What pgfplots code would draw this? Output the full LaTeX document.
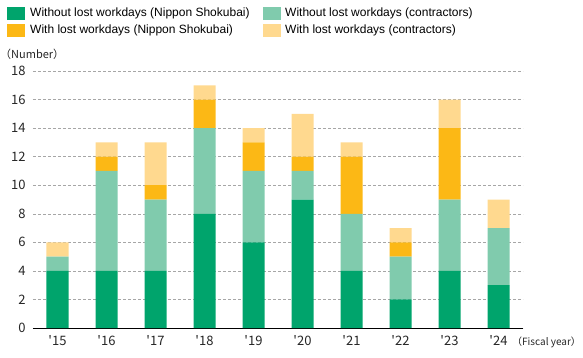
\documentclass[border=0pt]{standalone}
\usepackage{pgfplots}
\pgfplotsset{compat=1.18}
\usepackage{fontspec}
\setmainfont{Liberation Sans}
\newfontfamily\jp[Ligatures=TeXOff]{Noto Sans CJK JP}
\definecolor{dgreen}{HTML}{00A46C}
\definecolor{lgreen}{HTML}{80CBAD}
\definecolor{orng}{HTML}{FCB815}
\definecolor{lyell}{HTML}{FFD98F}
\pgfplotstableread{
x a b c d
0 4 1 0 1
1 4 7 1 1
2 4 5 1 3
3 8 6 2 1
4 6 5 2 1
5 9 2 1 3
6 4 4 4 1
7 2 3 1 1
8 4 5 5 2
9 3 4 0 2
}\datatable
\begin{document}
\begin{tikzpicture}[x=1pt,y=1pt]
\path[use as bounding box] (-33,-29) rectangle (550,328);
\begin{axis}[
  at={(0,0)}, anchor=south west,
  scale only axis, width=490pt, height=257pt,
  xmin=-0.5, xmax=9.5, ymin=0, ymax=18,
  ybar stacked, bar width=22pt,
  axis x line*=bottom, axis y line*=left,
  y axis line style={draw=none},
  x axis line style={black, line width=0.8pt, -},
  major tick length=0pt,
  ytick={0,2,...,18},
  xtick={0,...,9},
  xticklabels={'15,'16,'17,'18,'19,'20,'21,'22,'23,'24},
  ymajorgrids, grid style={densely dashed, gray!70, line width=0.5pt},
  /pgf/number format/assume math mode=true,
  tick label style={font=\jp\fontsize{13}{13}\selectfont, text=black!85},
  yticklabel style={xshift=-4pt},
  xticklabel style={yshift=-4pt},
  clip=false,
]
\addplot[fill=dgreen, draw=none] table[x=x, y=a] {\datatable};
\addplot[fill=lgreen, draw=none] table[x=x, y=b] {\datatable};
\addplot[fill=orng, draw=none] table[x=x, y=c] {\datatable};
\addplot[fill=lyell, draw=none] table[x=x, y=d] {\datatable};
\end{axis}
\fill[dgreen] (-26,308) rectangle (-8,321);
\node[anchor=west, inner sep=0pt, font=\fontsize{12}{12}\selectfont] at (-3,314.5) {Without lost workdays (Nippon Shokubai)};
\fill[orng] (-26,291) rectangle (-8,304);
\node[anchor=west, inner sep=0pt, font=\fontsize{12}{12}\selectfont] at (-3,297.5) {With lost workdays (Nippon Shokubai)};
\fill[lgreen] (230,308) rectangle (248,321);
\node[anchor=west, inner sep=0pt, font=\fontsize{12}{12}\selectfont] at (252,314.5) {Without lost workdays (contractors)};
\fill[lyell] (230,291) rectangle (248,304);
\node[anchor=west, inner sep=0pt, font=\fontsize{12}{12}\selectfont] at (252,297.5) {With lost workdays (contractors)};
\node[anchor=west, inner sep=0pt, font=\jp\fontsize{11}{11}\selectfont, text=black!85] at (-33,274) {（Number）};
\node[anchor=west, inner sep=0pt, font=\jp\fontsize{10}{10}\selectfont, text=black!85] at (479,-14) {（Fiscal year）};
\end{tikzpicture}
\end{document}
